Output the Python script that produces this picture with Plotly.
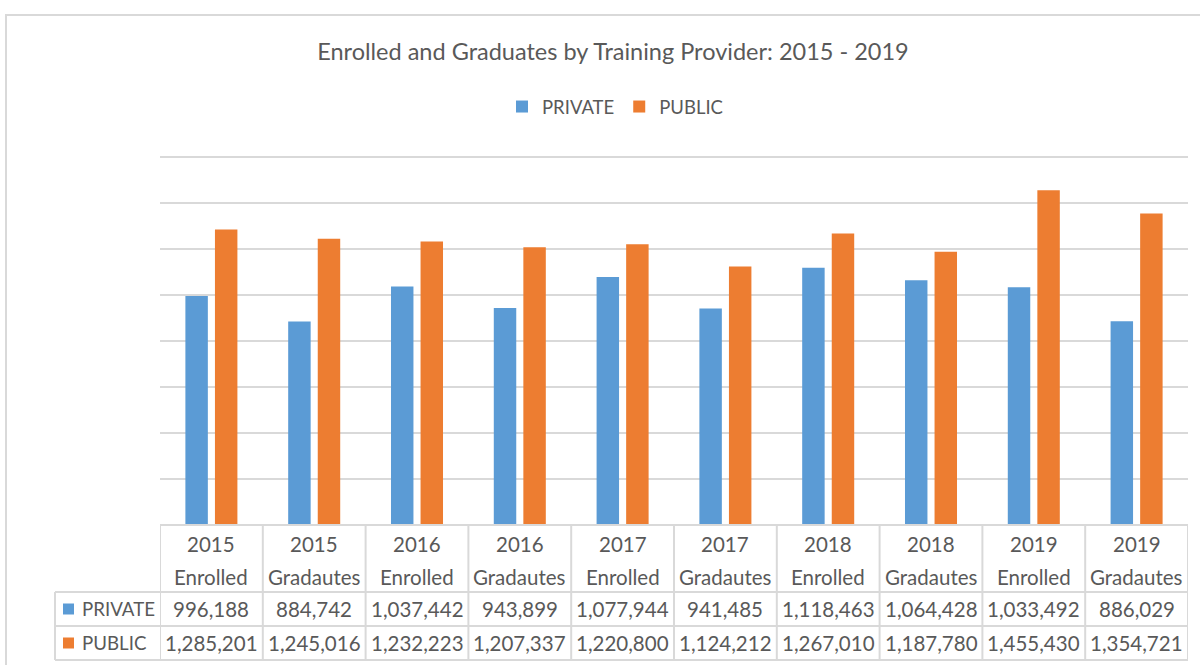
import plotly.graph_objects as go

years = ["2015", "2015", "2016", "2016", "2017", "2017", "2018", "2018", "2019", "2019"]
stages = ["Enrolled", "Gradautes", "Enrolled", "Gradautes", "Enrolled", "Gradautes",
          "Enrolled", "Gradautes", "Enrolled", "Gradautes"]
private = [996188, 884742, 1037442, 943899, 1077944, 941485, 1118463, 1064428, 1033492, 886029]
public = [1285201, 1245016, 1232223, 1207337, 1220800, 1124212, 1267010, 1187780, 1455430, 1354721]
series_names = ["PRIVATE", "PUBLIC"]
colors = ["#5B9BD5", "#ED7D31"]
title_text = "Enrolled and Graduates by Training Provider: 2015 - 2019"

cats = [f"{y} {s}" for y, s in zip(years, stages)]

W, H = 1200, 665
L, R, T, B = 160, 1188, 157, 525
FONT = "Lato"
GRAY = "#595959"
LINE = "#D9D9D9"
TS = 20.5


def px(x):
    return (x - L) / (R - L)


def py(y):
    return (B - y) / (B - T)


fig = go.Figure()
for name, vals, col in zip(series_names, [private, public], colors):
    fig.add_trace(go.Bar(x=cats, y=vals, name=name, marker_color=col,
                         marker_line_width=0))

shapes = []
annotations = []

# outer chart border
shapes.append(dict(type="rect", xref="paper", yref="paper",
                   x0=px(6), x1=px(1215), y0=py(690), y1=py(15),
                   line=dict(color=LINE, width=2), layer="below"))

# top gridline (range edge)
shapes.append(dict(type="line", xref="paper", yref="paper",
                   x0=0, x1=1, y0=1, y1=1, line=dict(color=LINE, width=2), layer="below"))

# table rows
row_y = [B, 592, 626, 660]
for i, yy in enumerate(row_y):
    x0 = px(L) if i == 0 else px(55)
    shapes.append(dict(type="line", xref="paper", yref="paper",
                       x0=x0, x1=px(R), y0=py(yy), y1=py(yy),
                       line=dict(color=LINE, width=2)))
# stub left border
shapes.append(dict(type="line", xref="paper", yref="paper",
                   x0=px(55), x1=px(55), y0=py(592), y1=py(660),
                   line=dict(color=LINE, width=2)))
# column separators via category axis
for k in range(len(cats) + 1):
    shapes.append(dict(type="line", xref="x", yref="paper",
                       x0=k - 0.5, x1=k - 0.5, y0=py(B), y1=py(660),
                       line=dict(color=LINE, width=2)))


def txt(x, xref, y, text, xanchor="center", size=TS):
    return dict(x=x, xref=xref, y=py(y), yref="paper", text=text,
                xanchor=xanchor, yanchor="middle", showarrow=False,
                font=dict(family=FONT, size=size, color=GRAY))


# header texts
for c, yv, st in zip(cats, years, stages):
    annotations.append(txt(c, "x", 544, yv))
    annotations.append(txt(c, "x", 577, st))

# value rows
for vals, yy, name, col in zip([private, public], [609, 643], series_names, colors):
    for c, v in zip(cats, vals):
        annotations.append(txt(c, "x", yy, f"{v:,}"))
    shapes.append(dict(type="rect", xref="paper", yref="paper",
                       x0=px(63), x1=px(74), y0=py(yy + 5.5), y1=py(yy - 5.5),
                       fillcolor=col, line=dict(width=0)))
    annotations.append(txt(px(80), "paper", yy, name, xanchor="left", size=18.7))

fig.update_layout(
    width=W, height=H,
    margin=dict(l=L, r=W - R, t=T, b=H - B),
    paper_bgcolor="white", plot_bgcolor="white",
    title=dict(text=title_text, x=613 / W, xref="container", xanchor="center",
               y=1 - 52 / H, yref="container", yanchor="middle",
               font=dict(family=FONT, size=23.5, color=GRAY)),
    legend=dict(orientation="h", x=615 / W, xref="container", xanchor="center",
                y=1 - 107 / H, yref="container", yanchor="middle",
                font=dict(family=FONT, size=18.5, color=GRAY),
                traceorder="normal"),
    barmode="group", bargap=0.425, bargroupgap=0.24,
    xaxis=dict(showticklabels=False, showgrid=False, zeroline=False, showline=False,
               ticks="", range=[-0.5, len(cats) - 0.5]),
    yaxis=dict(range=[0, 1600000], dtick=200000, showticklabels=False,
               showgrid=True, gridcolor=LINE, gridwidth=2, zeroline=False,
               showline=False, ticks=""),
    shapes=shapes, annotations=annotations,
    showlegend=True,
)

fig.write_html("out.html", config={"displayModeBar": False},
               post_script="document.body.style.margin='0';")
